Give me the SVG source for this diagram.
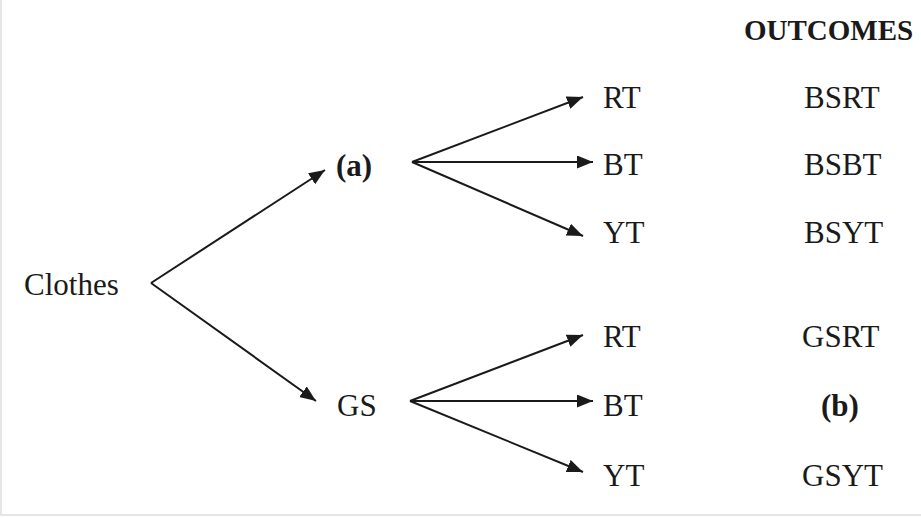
<svg xmlns="http://www.w3.org/2000/svg" width="921" height="518" viewBox="0 0 921 518">
<style>
.t{font-family:"Liberation Serif","Times New Roman",serif;font-size:31px;fill:#1a1a1a}
.b{font-weight:bold}
.e{stroke:#1a1a1a;stroke-width:2;fill:none;marker-end:url(#ah)}
</style>
<defs>
<marker id="ah" markerUnits="userSpaceOnUse" markerWidth="18" markerHeight="14" refX="16" refY="6.5" orient="auto">
<path d="M0,0 L16,6.5 L0,13 z" fill="#1a1a1a"/>
</marker>
</defs>
<rect x="0" y="0" width="921" height="518" fill="#fff"/>
<rect x="1" y="-2" width="930" height="517" fill="none" stroke="#ddd" stroke-width="1.5"/>
<g id="connectors">
<line class="e" x1="151" y1="283" x2="325" y2="170"/>
<line class="e" x1="151" y1="283" x2="316" y2="401"/>
<line class="e" x1="412" y1="162" x2="583" y2="97"/>
<line class="e" x1="412" y1="162" x2="593" y2="162"/>
<line class="e" x1="412" y1="162" x2="583" y2="236"/>
<line class="e" x1="410" y1="401" x2="583" y2="335"/>
<line class="e" x1="410" y1="401" x2="593" y2="401"/>
<line class="e" x1="410" y1="401" x2="583" y2="472"/>
</g>
<g id="title"><text class="t b" x="744" y="40" style="font-size:29px">OUTCOMES</text></g>
<g id="clothes"><text class="t" x="24" y="295">Clothes</text></g>
<g id="a"><text class="t b" x="336" y="176">(a)</text></g>
<g id="gs"><text class="t" x="337" y="416">GS</text></g>
<g id="rt1"><text class="t" x="603" y="108">RT</text></g>
<g id="bt1"><text class="t" x="603" y="175">BT</text></g>
<g id="yt1"><text class="t" x="603" y="243">YT</text></g>
<g id="rt2"><text class="t" x="603" y="347">RT</text></g>
<g id="bt2"><text class="t" x="603" y="416">BT</text></g>
<g id="yt2"><text class="t" x="603" y="486">YT</text></g>
<g id="o1"><text class="t" x="804" y="108">BSRT</text></g>
<g id="o2"><text class="t" x="804" y="175">BSBT</text></g>
<g id="o3"><text class="t" x="804" y="243">BSYT</text></g>
<g id="o4"><text class="t" x="802" y="347">GSRT</text></g>
<g id="o5"><text class="t b" x="821" y="416">(b)</text></g>
<g id="o6"><text class="t" x="802" y="486">GSYT</text></g>
</svg>
